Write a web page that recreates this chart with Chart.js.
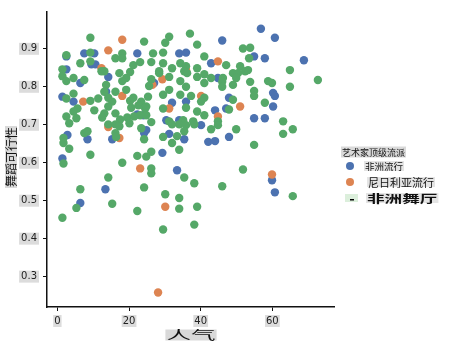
<!DOCTYPE html>
<html>
<head>
<meta charset="utf-8">
<script src="https://cdn.jsdelivr.net/npm/chart.js@4.4.1/dist/chart.umd.min.js"></script>
<style>
  html, body { margin: 0; padding: 0; background: #fff; }
  canvas { display: block; }
</style>
</head>
<body>
<canvas id="myChart" width="449" height="348"></canvas>
<script>
// popularity (x) / danceability (y), one pair of arrays per genre
const afroPopX = [56.8, 60.7, 46.0, 68.8, 54.9, 57.9, 7.5, 10.3, 2.5, 22.3, 34.0, 35.9, 9.5, 10.6, 42.9, 2.5, 14.2, 6.4, 44.8,
  60.2, 60.7, 1.4, 32.0, 35.9, 47.9, 44.0, 47.1, 60.2, 22.3, 24.0, 4.5, 13.6, 27.0, 54.9, 57.9, 30.4, 34.0, 2.8, 8.4, 15.3,
  24.2, 24.8, 31.2, 35.4, 40.1, 42.1, 44.0, 47.9, 29.3, 1.4, 33.4, 13.4, 6.4, 59.9, 60.7]
const afroPopY = [0.953, 0.929, 0.922, 0.870, 0.880, 0.875, 0.888, 0.888, 0.880, 0.888, 0.888, 0.890, 0.859, 0.859, 0.862, 0.846, 0.826, 0.810, 0.823,
  0.784, 0.776, 0.774, 0.758, 0.761, 0.771, 0.738, 0.743, 0.748, 0.727, 0.725, 0.761, 0.787, 0.810, 0.717, 0.717, 0.712, 0.712, 0.673, 0.662, 0.662,
  0.678, 0.686, 0.676, 0.662, 0.699, 0.655, 0.657, 0.668, 0.626, 0.611, 0.580, 0.530, 0.494, 0.554, 0.522]

const nigeriaPopX = [18.1, 14.2, 44.8, 12.3, 29.3, 26.5, 35.9, 7.2, 18.1, 40.1, 31.2, 51.0, 44.8, 14.2, 17.3, 23.1, 59.9, 30.1, 28.1]
const nigeriaPopY = [0.924, 0.896, 0.867, 0.849, 0.820, 0.805, 0.844, 0.761, 0.776, 0.776, 0.743, 0.748, 0.722, 0.694, 0.665, 0.585, 0.569, 0.484, 0.258]

const afroDanceX = [9.2, 24.2, 2.5, 9.2, 18.1, 16.2, 18.1, 6.4, 9.2, 23.1, 21.2, 1.4, 13.1, 12.3, 20.3, 17.3, 1.4, 4.5, 19.2, 2.5,
  18.1, 7.5, 13.6, 19.2, 16.2, 13.1, 4.5, 2.5, 11.4, 14.2, 15.3, 20.3, 21.2, 9.2, 23.4, 5.6, 14.2, 10.3, 20.6, 22.6,
  4.5, 13.1, 16.2, 24.5, 19.5, 12.5, 2.5, 5.3, 17.5, 23.1, 21.4,
  31.2, 37.0, 39.0, 30.1, 51.8, 26.7, 29.5, 26.2, 41.0, 34.3, 29.5, 35.9, 39.0, 32.0, 47.1, 51.0, 28.4, 35.4, 28.4, 36.2,
  49.0, 50.4, 31.2, 39.0, 41.0, 42.9, 46.2, 49.9, 52.4, 34.3, 26.2, 46.0, 41.0, 25.6, 35.9, 46.0, 49.0, 31.2, 25.3, 29.5,
  34.3, 37.3, 41.0, 40.1, 49.0, 35.9, 29.5, 39.0, 47.9, 41.0, 24.8, 24.8, 31.2, 35.1, 37.9, 44.8,
  53.8, 53.5, 53.2, 64.9, 53.8, 58.8, 59.9, 72.7, 64.9, 54.9, 54.9, 57.9, 63.0,
  3.3, 14.2, 16.2, 17.3, 20.1, 23.4, 7.5, 8.4, 16.2, 16.4, 1.7, 1.7, 3.3, 24.2, 9.2, 1.7, 18.1, 22.3, 24.8, 14.2,
  6.4, 24.2, 5.3, 15.3, 22.3, 1.4,
  26.2, 32.0, 34.0, 35.9, 38.2, 44.8, 42.9, 49.9, 29.5, 33.4, 35.4, 32.0, 34.0, 26.2, 26.2, 26.2, 51.8, 35.4, 38.2, 46.0,
  30.1, 34.0, 39.0, 34.0, 38.2, 29.5,
  65.7, 63.0, 54.9, 65.7]
const afroDanceY = [0.929, 0.919, 0.883, 0.890, 0.888, 0.875, 0.875, 0.862, 0.867, 0.865, 0.857, 0.846, 0.841, 0.841, 0.839, 0.836, 0.828, 0.823, 0.823, 0.815,
  0.815, 0.818, 0.805, 0.792, 0.787, 0.787, 0.782, 0.769, 0.769, 0.771, 0.761, 0.763, 0.771, 0.763, 0.761, 0.743, 0.748, 0.738, 0.745, 0.751,
  0.735, 0.730, 0.730, 0.743, 0.719, 0.719, 0.722, 0.717, 0.714, 0.725, 0.722,
  0.932, 0.940, 0.911, 0.916, 0.901, 0.888, 0.890, 0.865, 0.880, 0.862, 0.862, 0.854, 0.849, 0.849, 0.857, 0.854, 0.841, 0.841, 0.836, 0.836,
  0.836, 0.836, 0.826, 0.826, 0.833, 0.823, 0.823, 0.823, 0.841, 0.815, 0.820, 0.813, 0.810, 0.802, 0.800, 0.800, 0.805, 0.792, 0.774, 0.779,
  0.779, 0.776, 0.771, 0.761, 0.766, 0.745, 0.743, 0.735, 0.740, 0.725, 0.748, 0.725, 0.709, 0.712, 0.709, 0.709,
  0.903, 0.875, 0.844, 0.844, 0.813, 0.815, 0.810, 0.818, 0.800, 0.789, 0.776, 0.758, 0.709,
  0.704, 0.701, 0.701, 0.696, 0.704, 0.691, 0.678, 0.683, 0.678, 0.668, 0.665, 0.652, 0.637, 0.662, 0.621, 0.598, 0.600, 0.618, 0.616, 0.561,
  0.530, 0.535, 0.481, 0.492, 0.473, 0.455,
  0.707, 0.701, 0.701, 0.699, 0.701, 0.699, 0.688, 0.688, 0.668, 0.670, 0.683, 0.652, 0.634, 0.629, 0.585, 0.572, 0.582, 0.561, 0.546, 0.538,
  0.517, 0.507, 0.484, 0.479, 0.437, 0.424,
  0.688, 0.676, 0.647, 0.512]

const genres = ['非洲流行', '尼日利亚流行', '非洲舞厅']
const colors = ['#4c72b0', '#dd8452', '#55a868']
const xTicks = [0, 20, 40, 60]
const yTicks = [0.3, 0.4, 0.5, 0.6, 0.7, 0.8, 0.9]

function pts(xs, ys) {
  return xs.map((x, i) => ({ x: x, y: ys[i] }))
}

// text with a grey box behind it, optionally stretched sideways
function boxText(ctx, text, x, y, font, opt) {
  opt = opt || {}
  const sx = opt.sx || 1
  ctx.save()
  ctx.font = font
  ctx.textBaseline = 'middle'
  ctx.textAlign = 'left'
  const w = ctx.measureText(text).width * sx
  const h = opt.h || 11
  ctx.translate(x, y)
  if (opt.rot) ctx.rotate(opt.rot)
  const left = opt.center ? -w / 2 : 0
  ctx.fillStyle = opt.bg || '#d9d9d9'
  ctx.fillRect(left - 1, -h / 2, w + 2, h)
  ctx.scale(sx, 1)
  ctx.fillStyle = '#111'
  ctx.fillText(text, left / sx, 0.5)
  ctx.restore()
}

const decor = {
  id: 'decor',
  afterDraw(chart) {
    const ctx = chart.ctx
    const cjk = '"Noto Sans CJK SC", sans-serif'
    // axis titles
    boxText(ctx, '舞蹈可行性', 11, 157, '12px ' + cjk, { rot: -Math.PI / 2, center: true, h: 12 })
    boxText(ctx, '人气', 191, 335, '12px ' + cjk, { center: true, sx: 2.05, h: 11 })
    // legend
    boxText(ctx, '艺术家顶级流派', 342, 152, '9px ' + cjk, { h: 11 })
    const rows = [166, 182, 198]
    const fonts = ['9.5px ' + cjk, '11px ' + cjk, 'bold 11px ' + cjk]
    const lefts = [365, 368, 367]
    const stretch = [1, 1, 1.6]
    for (let i = 0; i < 2; i++) {
      ctx.beginPath()
      ctx.arc(350, rows[i], 4, 0, Math.PI * 2)
      ctx.fillStyle = colors[i]
      ctx.fill()
    }
    ctx.fillStyle = '#dcefdc'
    ctx.fillRect(345, rows[2] - 4, 13, 8)
    ctx.fillStyle = '#000'
    ctx.fillRect(350, rows[2] + 1, 4, 1.5)
    for (let i = 0; i < 3; i++) {
      boxText(ctx, genres[i], lefts[i], rows[i], fonts[i], { sx: stretch[i], bg: '#e4e4e4', h: 10 })
    }
  }
}

const ctx = document.getElementById('myChart').getContext('2d')

const tickFont = { family: '"DejaVu Sans", sans-serif', size: 10 }

new Chart(ctx, {
  type: 'scatter',
  data: {
    datasets: [
      // higher order is drawn first, so green ends up on top
      { label: genres[0], data: pts(afroPopX, afroPopY), backgroundColor: colors[0], order: 2 },
      { label: genres[1], data: pts(nigeriaPopX, nigeriaPopY), backgroundColor: colors[1], order: 1 },
      { label: genres[2], data: pts(afroDanceX, afroDanceY), backgroundColor: colors[2], order: 0 }
    ]
  },
  options: {
    responsive: false,
    animation: false,
    events: [],
    layout: { padding: { top: 7, right: 115, left: 0, bottom: 0 } },
    elements: { point: { radius: 4.2, borderWidth: 0, hoverRadius: 4.2 } },
    plugins: { legend: { display: false }, tooltip: { enabled: false } },
    scales: {
      x: {
        type: 'linear',
        min: -2.9,
        max: 77.2,
        afterBuildTicks: s => { s.ticks = xTicks.map(v => ({ value: v })) },
        afterFit: s => { s.height = 41 },
        border: { display: true, color: '#111', width: 1.5 },
        grid: { drawOnChartArea: false, drawTicks: true, tickLength: 4, color: '#111', lineWidth: 1 },
        ticks: {
          font: tickFont, color: '#222', padding: 4, maxRotation: 0,
          showLabelBackdrop: true, backdropColor: '#dcdcdc', backdropPadding: { x: 1, y: 0 }
        }
      },
      y: {
        type: 'linear',
        min: 0.22,
        max: 0.997,
        afterBuildTicks: s => { s.ticks = yTicks.map(v => ({ value: v })) },
        afterFit: s => { s.width = 47 },
        border: { display: true, color: '#111', width: 1.5 },
        grid: { drawOnChartArea: false, drawTicks: true, tickLength: 4, color: '#111', lineWidth: 1 },
        ticks: {
          font: tickFont, color: '#222', padding: 6,
          callback: v => v.toFixed(1),
          showLabelBackdrop: true, backdropColor: '#dcdcdc', backdropPadding: { x: 2, y: 0 }
        }
      }
    }
  },
  plugins: [decor]
})
</script>
</body>
</html>
